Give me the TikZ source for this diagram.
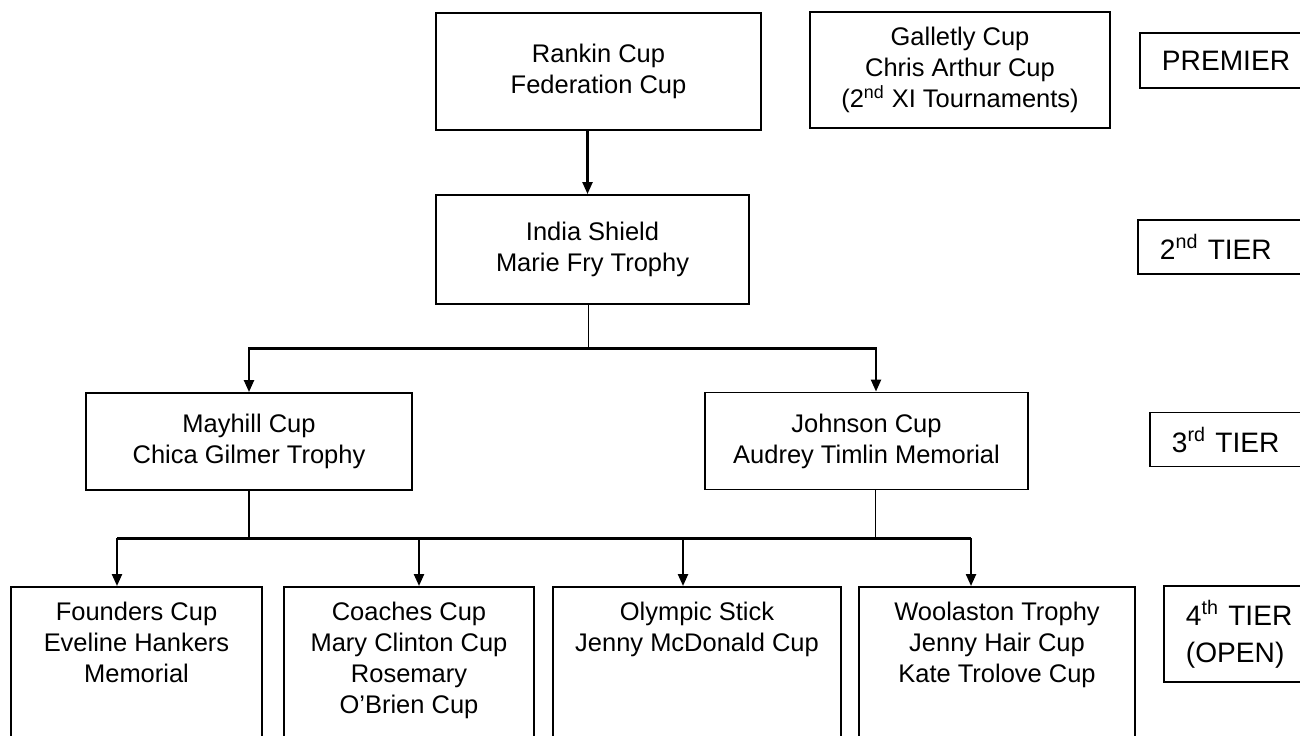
\documentclass[tikz,border=0pt]{standalone}
\usepackage{fontspec}
\setmainfont{Liberation Sans}
\usetikzlibrary{arrows.meta,calc}

\tikzset{
	cupbox/.style={draw,line width=1.1pt,align=center,inner sep=0pt,font=\fontsize{14.5}{17.6}\selectfont},
	lowbox/.style={cupbox,anchor=north,inner ysep=0.3cm,text depth=4cm},
	tierbox/.style={draw,line width=1.1pt,anchor=west,align=left,text width=3.4cm,inner xsep=0.44cm,inner ysep=0pt,font=\fontsize{16}{21}\selectfont},
	link/.style={line width=0.7pt},
	bus/.style={line width=1.3pt},
	drop/.style={line width=1.3pt,-{Triangle[length=0.24cm,width=0.2cm]}}
}

\begin{document}
\begin{tikzpicture}[x=0.02cm,y=-0.02cm]
		
		\useasboundingbox (0,0) rectangle (1300,735);
		\clip (0,0) rectangle (1300,735);
		
		\node[cupbox,minimum width=6.5cm,minimum height=2.34cm] (rankin) at (598.5,71.5) {Rankin Cup\\Federation Cup};
		\node[cupbox,minimum width=6cm,minimum height=2.32cm] (galletly) at (960,70) {Galletly Cup\\Chris Arthur Cup\\(2\textsuperscript{nd} XI Tournaments)};
		\node[cupbox,minimum width=6.26cm,minimum height=2.18cm] (india) at (592.5,249.5) {India Shield\\Marie Fry Trophy};
		\node[cupbox,minimum width=6.52cm,minimum height=1.94cm] (mayhill) at (249,441.5) {Mayhill Cup\\Chica Gilmer Trophy};
		\node[cupbox,minimum width=6.46cm,minimum height=1.94cm] (johnson) at (866.5,441) {Johnson Cup\\Audrey Timlin Memorial};
		
		\node[lowbox,minimum width=5.02cm] (founders) at (136.5,586) {Founders Cup\\Eveline Hankers\\Memorial};
		\node[lowbox,minimum width=5cm] (coaches) at (409,586) {Coaches Cup\\Mary Clinton Cup\\Rosemary\\O'Brien Cup};
		\node[lowbox,minimum width=5.76cm] (olympic) at (697,586) {Olympic Stick\\Jenny McDonald Cup};
		\node[lowbox,minimum width=5.52cm] (woolaston) at (997,586) {Woolaston Trophy\\Jenny Hair Cup\\Kate Trolove Cup};
		
		\node[tierbox,minimum height=1.1cm] (premier) at (1139,60.5) {PREMIER};
		\node[tierbox,minimum height=1.08cm] (tier2) at (1137,247) {2\textsuperscript{nd} TIER};
		\node[tierbox,minimum height=1.08cm] (tier3) at (1149,439.5) {3\textsuperscript{rd} TIER};
		\node[tierbox,minimum height=1.92cm] (tier4) at (1163,634) {4\textsuperscript{th} TIER\\(OPEN)};
		
		\draw[drop] ([xshift=-0.1cm]rankin.south -| india.north) -- ([xshift=-0.1cm]india.north);
		
		\coordinate (split) at ($(india.south)!0.5!(india.south |- mayhill.north)$);
		\coordinate (jtop) at ($(johnson.north)+(9.5,0)$);
		\draw[link] ([xshift=-0.08cm]india.south) -- ([xshift=-0.08cm]split);
		\draw[drop] (split) -| (mayhill.north);
		\draw[drop] (split) -| (jtop);
		
		\coordinate (merge) at ($(mayhill.south)!0.5!(mayhill.south |- founders.north)$);
		\coordinate (jbot) at ($(johnson.south)+(9,0)$);
		\foreach \n/\dx in {founders/-19.5,coaches/10,olympic/-14,woolaston/-26}
			\coordinate (\n-in) at ($(\n.north)+(\dx,0)$);
		
		\draw[link] (mayhill.south) -- (mayhill.south |- merge);
		\draw[link] (jbot) -- (jbot |- merge);
		\draw[bus] (founders-in |- merge) -- (woolaston-in |- merge);
		\foreach \n in {founders,coaches,olympic,woolaston}
			\draw[drop] (\n-in |- merge) -- (\n-in);
		
\end{tikzpicture}
\end{document}
